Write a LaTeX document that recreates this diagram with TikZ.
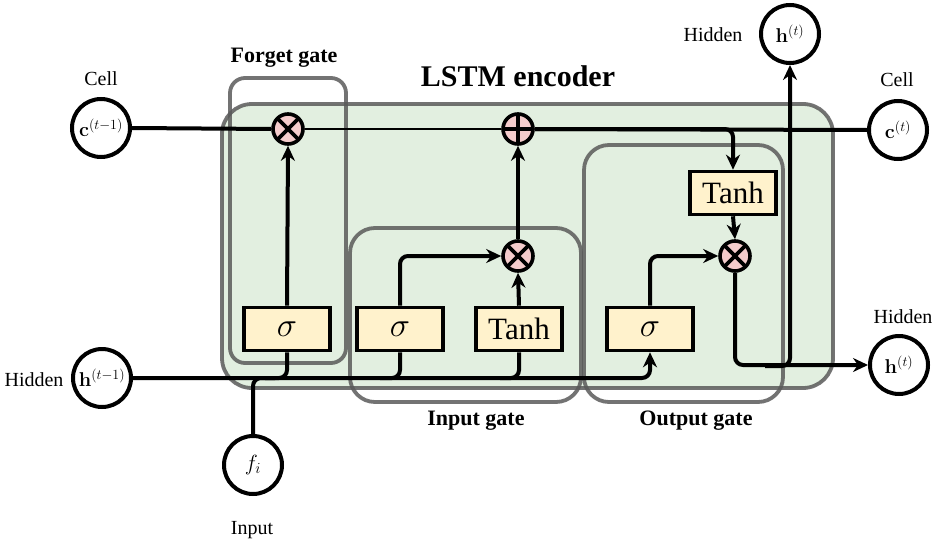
\documentclass[tikz,border=0pt]{standalone}
\usepackage{fix-cm}
\usepackage[no-math]{fontspec}
\setmainfont{Liberation Serif}
\usetikzlibrary{arrows.meta}
\definecolor{encfill}{HTML}{E2EFE0}
\definecolor{grpline}{HTML}{5A5A5A}
\definecolor{opfill}{HTML}{F4CCCC}
\definecolor{actfill}{HTML}{FFF2CC}
\begin{document}
\begin{tikzpicture}[x=1pt,y=-1pt,
  io/.style={circle, draw, line width=4pt, fill=white, minimum size=58pt, inner sep=0pt, font=\fontsize{20}{20}\selectfont},
  lbl/.style={font=\fontsize{20}{20}\selectfont},
  grplbl/.style={font=\fontsize{22}{22}\selectfont\bfseries},
  op/.style={circle, draw, line width=3.6pt, fill=opfill, minimum size=30pt, inner sep=0pt},
  mult/.style={op, path picture={\draw[line width=3.6pt] (path picture bounding box.north west) -- (path picture bounding box.south east) (path picture bounding box.north east) -- (path picture bounding box.south west);}},
  addop/.style={op, path picture={\draw[line width=3.6pt] (path picture bounding box.north) -- (path picture bounding box.south) (path picture bounding box.east) -- (path picture bounding box.west);}},
  act/.style={draw, line width=3.6pt, fill=actfill, minimum width=86pt, minimum height=43pt, inner sep=0pt, font=\fontsize{31}{31}\selectfont},
  sig/.style={act, font=\fontsize{34}{34}\selectfont},
  grp/.style={draw=grpline, draw opacity=0.85, line width=3.8pt},
  flow/.style={line width=4pt, rounded corners=8pt},
  arr/.style={flow, -{Stealth[length=15pt, width=14pt]}}
]
\useasboundingbox (0,0) rectangle (933,543);
% groups
\fill[encfill, rounded corners=30pt] (222,104) rectangle (833,388);
\draw[grp, rounded corners=30pt] (222,104) rectangle (833,388);
\draw[grp, rounded corners=15pt] (230,78) rectangle (346,363);
\draw[grp, rounded corners=25pt] (350,228) rectangle (581,402);
\draw[grp, rounded corners=25pt] (584,145) rectangle (783,402);
\node[font=\fontsize{30}{30}\selectfont\bfseries] (title) at (518,76) {LSTM encoder};
\node[grplbl] (fgl) at (284,58) {Forget gate};
\node[grplbl] (igl) at (476,421) {Input gate};
\node[grplbl] (ogl) at (696,421) {Output gate};
% io nodes
\node[io] (cprev) at (101,128) {$\mathbf{c}^{(t-1)}$};
\node[lbl] (cprevl) at (101,79) {Cell};
\node[io] (hprev) at (102,378) {$\mathbf{h}^{(t-1)}$};
\node[lbl] (hprevl) at (34,380) {Hidden};
\node[io, font=\fontsize{22}{22}\selectfont] (fin) at (253,465) {$f_i$};
\node[lbl] (finl) at (252,530) {Input};
\node[io] (htop) at (790,34) {$\mathbf{h}^{(t)}$};
\node[lbl] (htopl) at (713,35) {Hidden};
\node[io] (cnext) at (898,130) {$\mathbf{c}^{(t)}$};
\node[lbl] (cnextl) at (897,80) {Cell};
\node[io] (hnext) at (899,365) {$\mathbf{h}^{(t)}$};
\node[lbl] (hnextl) at (903,317) {Hidden};
% ops
\node[mult] (fx) at (288,129) {};
\node[addop] (pl) at (518,129) {};
\node[mult] (ix) at (518,256) {};
\node[mult] (ox) at (735,256) {};
% activations
\node[sig] (fs) at (287,329) {$\sigma$};
\node[sig] (is) at (400,329) {$\sigma$};
\node[act] (it) at (519,329) {Tanh};
\node[sig] (os) at (650,329) {$\sigma$};
\node[act] (ot) at (733,193) {Tanh};
% coordinates
\coordinate (hjoin) at (790,366);
% cell line
\draw[flow] (cprev.east) -- (fx.west);
\draw[line width=2.8pt] (fx.east) -- (pl.west);
\draw[flow] (pl.east) -- (cnext.west);
\draw[arr] (pl.east) -| (ot.north);
% hidden line
\draw[arr] (hprev.east) -| (os.south);
\draw[flow] (fs.south) -- (287,378) -- (265,378);
\draw[flow] (is.south) -- (400,378) -- (380,378);
\draw[flow] (it.south) -- (519,378) -- (500,378);
\draw[flow] (fin.north) -- (253,378) -- (275,378);
% gates
\draw[arr] (fs.north) -- (fx.south);
\draw[arr] (is.north) |- (ix.west);
\draw[arr] (it.north) -- (ix.south);
\draw[arr] (ix.north) -- (pl.south);
\draw[arr] (os.north) |- (ox.west);
\draw[arr] (ot.south) -- (ox.north);
\draw[arr] (ox.south) |- (hnext.west);
\draw[arr] (765,366) -- (hjoin) -- (htop.south);
\end{tikzpicture}
\end{document}
